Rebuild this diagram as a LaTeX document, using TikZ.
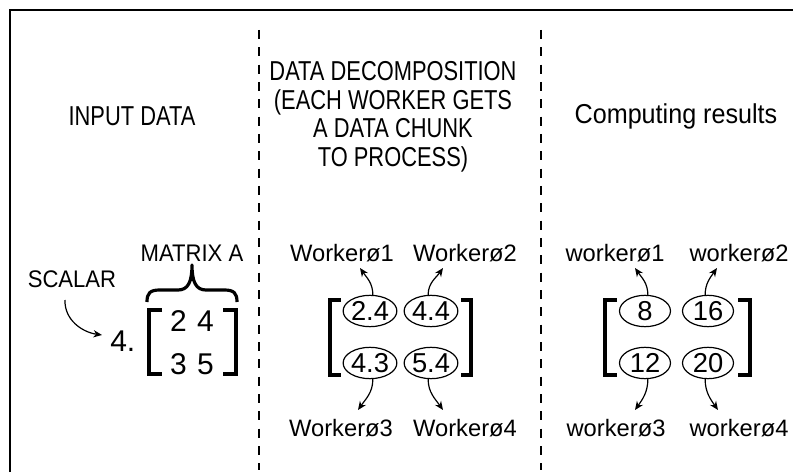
\documentclass[tikz,border=0pt]{standalone}
\usepackage{fontspec}
\setmainfont{Liberation Sans}
\newfontfamily\hdrfont[FakeStretch=0.8]{Liberation Sans}
\newfontfamily\hdrlfont[FakeStretch=0.92]{Liberation Sans}
\newfontfamily\lblfont[FakeStretch=0.92]{Liberation Sans}
\usetikzlibrary{arrows.meta,calc,shapes.geometric}
\tikzset{
  hdr/.style={font=\hdrfont\fontsize{20.5}{21.4}\selectfont, align=center, inner sep=0},
  hdrl/.style={font=\hdrlfont\fontsize{20.5}{21.4}\selectfont, align=center, inner sep=0},
  lbl/.style={font=\lblfont\fontsize{18}{20}\selectfont, inner sep=0, anchor=base},
  worker/.style={font=\fontsize{17.8}{20}\selectfont, inner sep=0, anchor=base},
  cell/.style={ellipse, draw, line width=0.9pt, minimum width=38.25pt, minimum height=23.5pt, inner sep=0, font=\fontsize{20.5}{22}\selectfont},
  digit/.style={font=\fontsize{22.5}{24}\selectfont, inner sep=0, anchor=base},
  bracket/.style={line width=3pt, line cap=butt, line join=miter},
  flow/.style={-{Stealth[length=6.5pt,width=5.5pt]}, line width=0.9pt},
  sep/.style={line width=1.1pt, dash pattern=on 6.75pt off 6.25pt},
  frame/.style={line width=1.5pt}
}
\begin{document}
\begin{tikzpicture}[x=0.75pt,y=0.75pt]
\useasboundingbox (0,0) rectangle (793,472);
% frame (top and left edges)
\draw[frame] (10,0) -- (10,462) -- (793,462);
% separators
\draw[sep] (259,442) -- (259,2);
\draw[sep] (541,442) -- (541,2);
% headers
\node[hdr] (h1) at (132,356) {INPUT DATA};
\node[hdr] (h2) at (393,355) {DATA DECOMPOSITION\\(EACH WORKER GETS\\A DATA CHUNK\\TO PROCESS)};
\node[hdrl] (h3) at (676,356) {Computing results};

% ---- input data ----
\node[lbl] (matrix) at (192,210) {MATRIX A};
\node[lbl] (scalar) at (72,185) {SCALAR};
\draw[line width=2.4pt, line join=round]
  (147,170) .. controls (147,179) and (150,182) .. (160,182) -- (178,182)
  .. controls (188,182) and (192,190) .. (192,207)
  .. controls (192,190) and (196,182) .. (206,182) -- (224,182)
  .. controls (234,182) and (237,179) .. (237,170);
\node[digit, anchor=base west] (four) at (110,121) {4.};
\draw[bracket] (162,162.5) -- (149,162.5) -- (149,98.5) -- (162,98.5);
\draw[bracket] (223,162.5) -- (235.5,162.5) -- (235.5,98.5) -- (223,98.5);
\node[digit] (a11) at (178.5,141) {2};
\node[digit] (a12) at (205.5,141) {4};
\node[digit] (a21) at (178.5,98) {3};
\node[digit] (a22) at (205.5,98) {5};
\draw[flow] ($(scalar.base)+(-7,-13)$) to[out=-92,in=172] ($(four.base west)+(-8,16)$);

% ---- data decomposition ----
\draw[bracket] (341,172) -- (329.5,172) -- (329.5,97.5) -- (341,97.5);
\draw[bracket] (461,172) -- (470.5,172) -- (470.5,97.5) -- (461,97.5);
\node[cell] (m1) at (370,161) {2.4};
\node[cell] (m2) at (431,161) {4.4};
\node[cell] (m3) at (370,109) {4.3};
\node[cell] (m4) at (431,109) {5.4};
\node[worker] (mw1) at (342,210) {Workerø1};
\node[worker] (mw2) at (465,210) {Workerø2};
\node[worker] (mw3) at (341,36) {Workerø3};
\node[worker] (mw4) at (465,36) {Workerø4};
\draw[flow] (m1.80) to[out=90,in=-55] ($(mw1.base)+(18,-6)$);
\draw[flow] (m2.100) to[out=90,in=-125] ($(mw2.base)+(-22,-6)$);
\draw[flow] (m3.-80) to[out=-90,in=55] ($(mw3.base)+(17,26)$);
\draw[flow] (m4.-100) to[out=-90,in=125] ($(mw4.base)+(-22,26)$);

% ---- computing results ----
\draw[bracket] (617,172) -- (605,172) -- (605,97.5) -- (617,97.5);
\draw[bracket] (738,172) -- (749.5,172) -- (749.5,97.5) -- (738,97.5);
\node[cell] (r1) at (645,161) {8};
\node[cell] (r2) at (708,161) {16};
\node[cell] (r3) at (645,109) {12};
\node[cell] (r4) at (708,109) {20};
\node[worker] (rw1) at (615,210) {workerø1};
\node[worker] (rw2) at (739,210) {workerø2};
\node[worker] (rw3) at (616,36) {workerø3};
\node[worker] (rw4) at (739,36) {workerø4};
\draw[flow] (r1.80) to[out=90,in=-55] ($(rw1.base)+(20,-6)$);
\draw[flow] (r2.100) to[out=90,in=-125] ($(rw2.base)+(-22,-6)$);
\draw[flow] (r3.-80) to[out=-90,in=55] ($(rw3.base)+(19,26)$);
\draw[flow] (r4.-100) to[out=-90,in=125] ($(rw4.base)+(-21,26)$);
\end{tikzpicture}
\end{document}
